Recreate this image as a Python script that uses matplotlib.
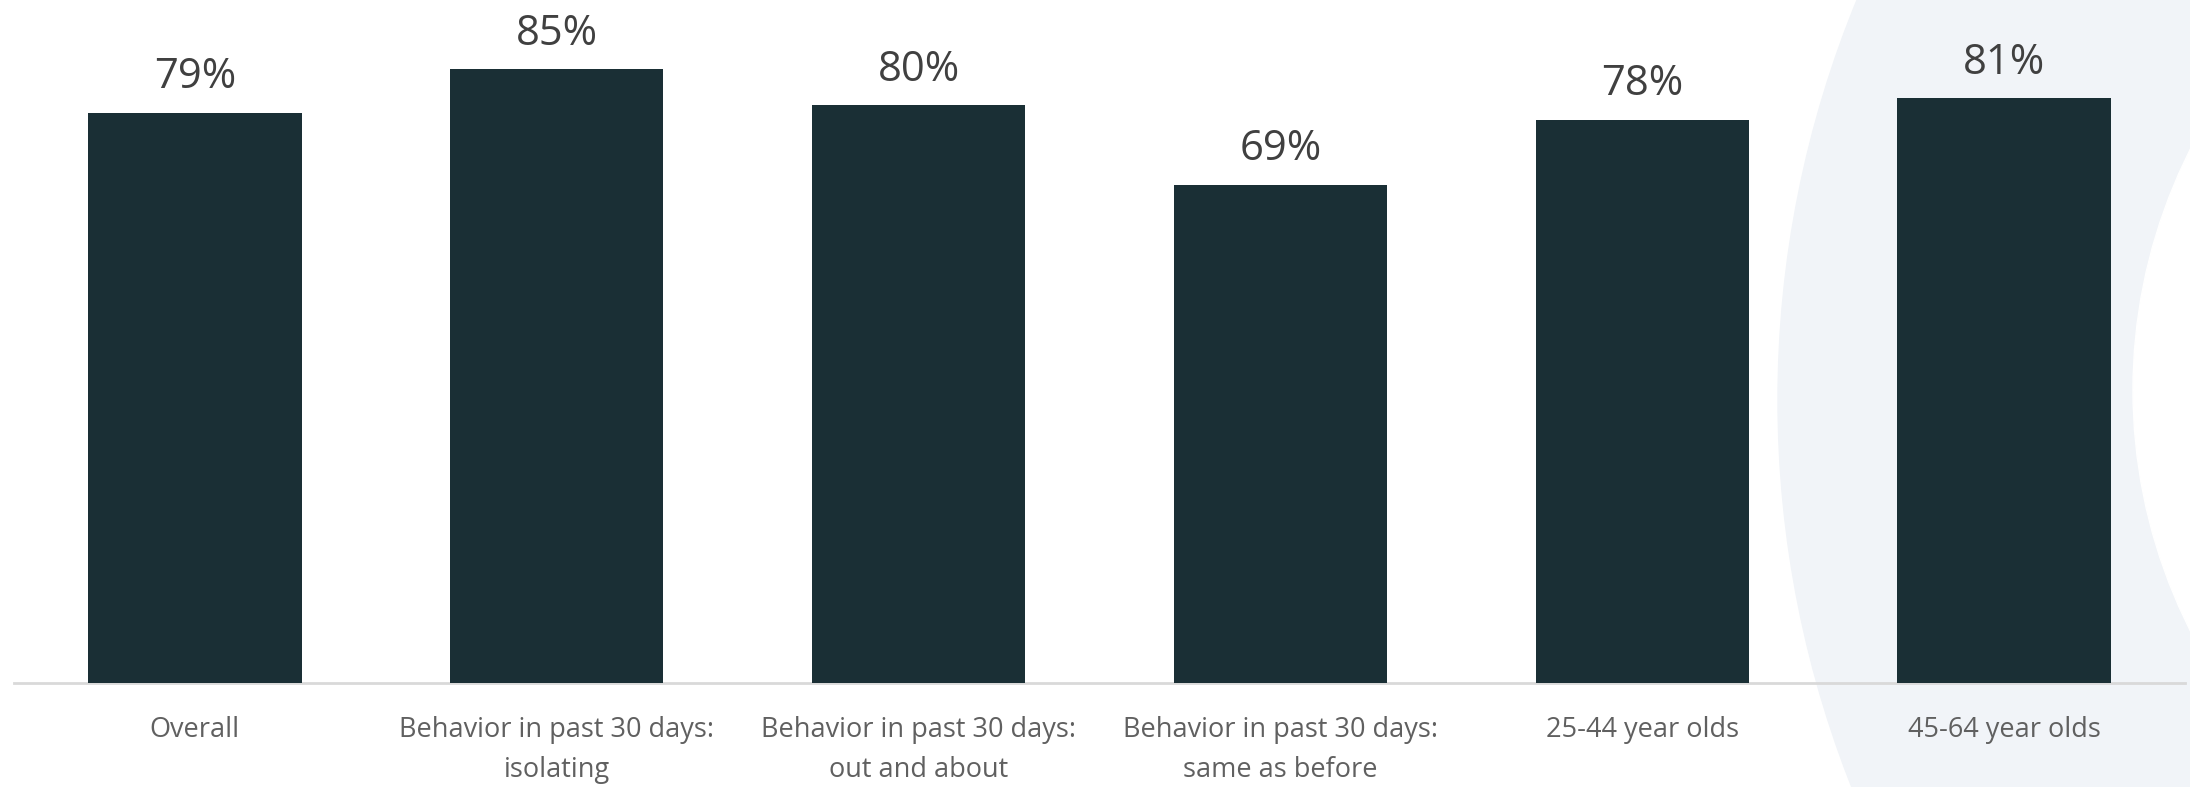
import matplotlib.pyplot as plt
from matplotlib.patches import Circle
from matplotlib.transforms import IdentityTransform

categories = ["Overall", "Behavior in past 30 days:\nisolating", "Behavior in past 30 days:\nout and about",
              "Behavior in past 30 days:\nsame as before", "25-44 year olds", "45-64 year olds"]
values = [79, 85, 80, 69, 78, 81]

plt.rcParams['font.family'] = ['Open Sans', 'DejaVu Sans']

fig = plt.figure(figsize=(21.9, 7.87), dpi=100)

# soft ring in the background, drawn in pixel coordinates
fig.patches.append(Circle((2830, 387), 1052, transform=IdentityTransform(), color="#f1f4f8", zorder=-2))
fig.patches.append(Circle((2667, 397), 534, transform=IdentityTransform(), color="white", zorder=-1))

ax = fig.add_axes([14 / 2190, 104 / 787, 2171 / 2190, 683 / 787])
ax.set_zorder(2)
ax.patch.set_alpha(0)

x = list(range(len(values)))
bars = ax.bar(x, values, width=0.59, color="#1a2f35", zorder=3)
for b, v in zip(bars, values):
    ax.text(b.get_x() + b.get_width() / 2, v + 2.0, f"{v}%", ha="center", va="bottom",
            fontsize=30, color="#404040", clip_on=False)

ax.set_xlim(-0.5, 5.5)
ax.set_ylim(0, 94.6)
ax.set_yticks([])
ax.set_xticks(x)
ax.set_xticklabels(categories, fontsize=19.5, color="#606060", linespacing=1.55)
ax.tick_params(axis="x", length=0, pad=24)
for s in ["top", "right", "left"]:
    ax.spines[s].set_visible(False)
ax.spines["bottom"].set_color("#d9d9d9")
ax.spines["bottom"].set_linewidth(2)

fig.savefig("out.png", dpi=100)
